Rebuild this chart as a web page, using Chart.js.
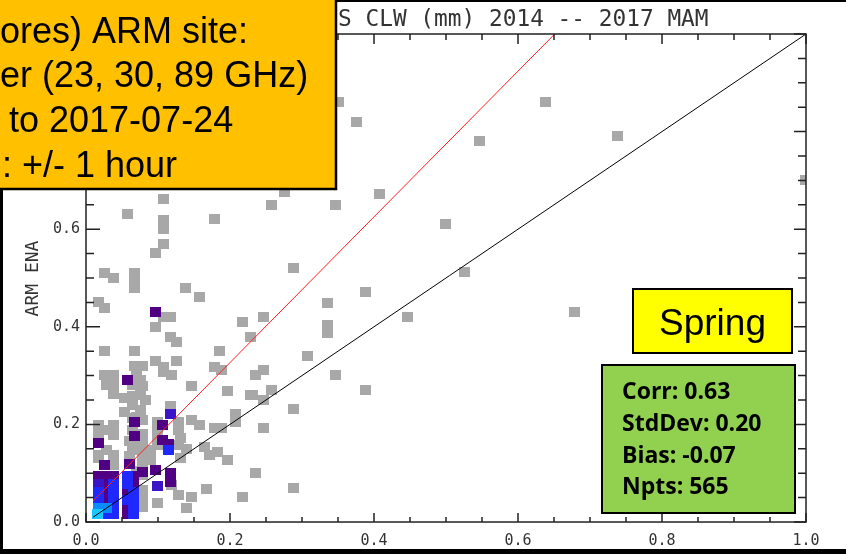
<!DOCTYPE html>
<html>
<head>
<meta charset="utf-8">
<script src="https://cdn.jsdelivr.net/npm/chart.js@4"></script>
<style>
  html, body { margin: 0; padding: 0; background: #fff; }
</style>
</head>
<body>
<canvas id="c" width="846" height="554"></canvas>
<script>
  'use strict';

  // Scatter values (satellite CLW on x, ARM ENA on y), grouped by point density colour
  const grayX = [0.350, 0.376, 0.638, 0.547, 0.738, 0.999, 0.276, 0.407, 0.107, 0.257, 0.347, 0.058, 0.178, 0.107, 0.107,
    0.499, 0.107, 0.097, 0.288, 0.526, 0.026, 0.038, 0.067, 0.067, 0.067, 0.138, 0.388, 0.157, 0.018, 0.026, 0.336, 0.678,
    0.108, 0.118, 0.247, 0.447, 0.218, 0.336, 0.336, 0.097, 0.228, 0.118, 0.126, 0.026, 0.067, 0.186, 0.307, 0.097, 0.126,
    0.247, 0.235, 0.347, 0.067, 0.078, 0.107, 0.178, 0.188, 0.107, 0.119, 0.258, 0.231, 0.247, 0.388, 0.288, 0.247, 0.235,
    0.288,
    0.026, 0.038, 0.028, 0.038, 0.065, 0.075, 0.075, 0.065, 0.075, 0.082, 0.146, 0.197, 0.228, 0.208, 0.208, 0.117, 0.147,
    0.158, 0.178, 0.188, 0.018, 0.028, 0.038, 0.038, 0.018, 0.028, 0.038, 0.018, 0.018, 0.038, 0.065, 0.075, 0.065, 0.078,
    0.078, 0.078, 0.078, 0.078, 0.078, 0.099, 0.099, 0.089, 0.089, 0.128, 0.128, 0.131, 0.165, 0.172, 0.182, 0.197, 0.167,
    0.218, 0.146, 0.140, 0.099, 0.119, 0.128, 0.070, 0.060, 0.060, 0.070,
    0.038, 0.070, 0.078, 0.065, 0.078, 0.065, 0.053, 0.053, 0.078, 0.078, 0.099, 0.099, 0.128, 0.131, 0.140];
  const grayY = [0.861, 0.820, 0.861, 0.781, 0.791, 0.701, 0.676, 0.672, 0.662, 0.650, 0.650, 0.631, 0.621, 0.619, 0.600,
    0.611, 0.570, 0.551, 0.520, 0.512, 0.510, 0.500, 0.510, 0.496, 0.480, 0.480, 0.471, 0.461, 0.451, 0.439, 0.449, 0.430,
    0.420, 0.420, 0.420, 0.420, 0.410, 0.404, 0.387, 0.400, 0.379, 0.379, 0.369, 0.350, 0.350, 0.350, 0.340, 0.330, 0.330,
    0.311, 0.301, 0.301, 0.320, 0.320, 0.318, 0.318, 0.311, 0.307, 0.301, 0.270, 0.260, 0.250, 0.270, 0.232, 0.193, 0.100,
    0.070,
    0.301, 0.301, 0.281, 0.262, 0.281, 0.291, 0.260, 0.240, 0.230, 0.250, 0.279, 0.268, 0.260, 0.221, 0.205, 0.238, 0.209,
    0.199, 0.193, 0.193, 0.199, 0.189, 0.199, 0.178, 0.178, 0.148, 0.137, 0.137, 0.131, 0.117, 0.189, 0.158, 0.148, 0.137,
    0.123, 0.096, 0.066, 0.045, 0.031, 0.189, 0.172, 0.148, 0.127, 0.189, 0.158, 0.131, 0.154, 0.137, 0.143, 0.127, 0.068,
    0.051, 0.051, 0.029, 0.039, 0.076, 0.055, 0.215, 0.165, 0.135, 0.105,
    0.281, 0.300, 0.279, 0.258, 0.209, 0.213, 0.255, 0.225, 0.180, 0.160, 0.205, 0.158, 0.205, 0.172, 0.150];

  const purpleX = [0.097, 0.058, 0.067, 0.067, 0.106, 0.106, 0.115, 0.018, 0.026, 0.061, 0.078, 0.096, 0.117, 0.117,
    0.017, 0.028, 0.038, 0.028, 0.028, 0.028, 0.066, 0.066, 0.058, 0.058, 0.058];
  const purpleY = [0.430, 0.291, 0.205, 0.176, 0.199, 0.168, 0.160, 0.162, 0.117, 0.119, 0.102, 0.107, 0.100, 0.082,
    0.094, 0.094, 0.094, 0.078, 0.061, 0.045, 0.094, 0.078, 0.061, 0.029, 0.016];

  const violetX = [0.118, 0.099, 0.017];
  const violetY = [0.221, 0.074, 0.078];

  const blueX = [0.115, 0.038, 0.017, 0.038, 0.017, 0.038, 0.038, 0.028, 0.038, 0.058, 0.058, 0.066, 0.058, 0.066,
    0.066, 0.066];
  const blueY = [0.148, 0.078, 0.061, 0.061, 0.045, 0.045, 0.029, 0.016, 0.016, 0.094, 0.078, 0.061, 0.045, 0.045,
    0.029, 0.016];

  const lightX = [0.017, 0.028];
  const lightY = [0.029, 0.029];

  const cyanX = [0.016];
  const cyanY = [0.016];

  // Fitted line and 1:1 line
  const fitX = [0.01, 0.651];
  const fitY = [0.043, 1.0];
  const oneX = [0.01, 1.0];
  const oneY = [0.01, 1.0];

  const tickValues = [0, 0.2, 0.4, 0.6, 0.8, 1.0];

  const pts = (xs, ys) => xs.map((x, i) => ({ x, y: ys[i] }));

  // square marker, a bit wider than tall like the original symbols
  const square = (color) => {
    const c = document.createElement('canvas');
    c.width = 11;
    c.height = 10;
    const g = c.getContext('2d');
    g.fillStyle = color;
    g.fillRect(0, 0, 11, 10);
    return c;
  };

  const pointSet = (xs, ys, color, order) => ({
    data: pts(xs, ys),
    pointStyle: square(color),
    pointRadius: 5,
    showLine: false,
    order
  });

  const lineSet = (xs, ys, color, order) => ({
    data: pts(xs, ys),
    showLine: true,
    borderColor: color,
    borderWidth: 1,
    pointRadius: 0,
    fill: false,
    order
  });

  const decor = {
    id: 'decor',
    afterDraw(chart) {
      const { ctx, chartArea: a, scales: { x, y } } = chart;
      ctx.save();

      // plot frame and inward ticks
      ctx.strokeStyle = '#222';
      ctx.lineWidth = 1.5;
      ctx.strokeRect(a.left, a.top, a.right - a.left, a.bottom - a.top);
      ctx.beginPath();
      for (let i = 0; i <= 20; i++) {
        const v = i * 0.05;
        const major = i % 4 === 0;
        const px = x.getPixelForValue(v);
        const py = y.getPixelForValue(v);
        ctx.moveTo(px, a.bottom); ctx.lineTo(px, a.bottom - (major ? 9 : 5));
        ctx.moveTo(px, a.top); ctx.lineTo(px, a.top + (major ? 10 : 6));
        ctx.moveTo(a.left, py); ctx.lineTo(a.left + (major ? 14 : 8), py);
        ctx.moveTo(a.right, py); ctx.lineTo(a.right - (major ? 12 : 8), py);
      }
      ctx.stroke();

      // y axis title
      ctx.fillStyle = '#333';
      ctx.font = '18px "DejaVu Sans Mono"';
      ctx.textAlign = 'center';
      ctx.textBaseline = 'middle';
      ctx.save();
      ctx.translate(33.5, 278.5);
      ctx.rotate(-Math.PI / 2);
      ctx.fillText('ARM ENA', 0, 0);
      ctx.restore();

      // chart title (left part sits under the note box)
      ctx.font = '22.8px "DejaVu Sans Mono"';
      ctx.textAlign = 'left';
      ctx.textBaseline = 'alphabetic';
      ctx.fillText('S CLW (mm) 2014 -- 2017 MAM', 338, 26);

      // orange note box
      ctx.fillStyle = '#FFC000';
      ctx.fillRect(0, 0, 336, 189);
      ctx.strokeStyle = '#000';
      ctx.lineWidth = 2.5;
      ctx.strokeRect(-5, -5, 341, 194);
      ctx.fillStyle = '#000';
      ctx.font = '36px "Liberation Sans"';
      ctx.fillText('ores) ARM site:', 0, 43);
      ctx.fillText('er (23, 30, 89 GHz)', 0, 87);
      ctx.fillText('to 2017-07-24', 9, 132);
      ctx.fillText(': +/- 1 hour', 2, 177);

      // season box
      ctx.fillStyle = '#FFFF00';
      ctx.fillRect(633, 289, 159, 64);
      ctx.lineWidth = 2;
      ctx.strokeRect(633, 289, 159, 64);
      ctx.fillStyle = '#000';
      ctx.font = '37px "Liberation Sans"';
      ctx.textAlign = 'center';
      ctx.fillText('Spring', 712.5, 335);

      // stats box
      ctx.fillStyle = '#92D050';
      ctx.fillRect(602, 365, 193, 148);
      ctx.strokeRect(602, 365, 193, 148);
      ctx.fillStyle = '#000';
      ctx.font = '700 23px "Open Sans"';
      ctx.textAlign = 'left';
      ctx.fillText('Corr: 0.63', 622, 399);
      ctx.fillText('StdDev: 0.20', 622, 431);
      ctx.fillText('Bias: -0.07', 622, 463);
      ctx.fillText('Npts: 565', 622, 494);

      // picture border
      ctx.fillStyle = '#000';
      ctx.fillRect(336, 0, 510, 2);
      ctx.fillRect(0, 189, 3, 365);
      ctx.fillRect(0, 549, 846, 5);

      ctx.restore();
    }
  };

  new Chart(document.getElementById('c'), {
    type: 'scatter',
    data: {
      datasets: [
        lineSet(fitX, fitY, '#ff2020', 0),
        lineSet(oneX, oneY, '#000000', 1),
        pointSet(cyanX, cyanY, '#18c8ff', 2),
        pointSet(lightX, lightY, '#0a8cff', 3),
        pointSet(blueX, blueY, '#1e28ff', 4),
        pointSet(violetX, violetY, '#3c14c8', 5),
        pointSet(purpleX, purpleY, '#500082', 6),
        pointSet(grayX, grayY, '#a8a8a8', 7)
      ]
    },
    options: {
      responsive: false,
      animation: false,
      events: [],
      layout: { padding: { top: 34, right: 40, left: 0, bottom: 0 } },
      plugins: { legend: { display: false }, tooltip: { enabled: false } },
      scales: {
        x: {
          type: 'linear',
          min: 0,
          max: 1,
          grid: { display: false, drawTicks: false },
          border: { display: false },
          afterFit: (s) => { s.height = 32; },
          afterBuildTicks: (s) => { s.ticks = tickValues.map(v => ({ value: v })); },
          ticks: {
            autoSkip: false,
            maxRotation: 0,
            padding: 10,
            color: '#333',
            font: { family: 'DejaVu Sans Mono', size: 15 },
            callback: (v) => Number(v).toFixed(1)
          }
        },
        y: {
          type: 'linear',
          min: 0,
          max: 1,
          grid: { display: false, drawTicks: false },
          border: { display: false },
          afterFit: (s) => { s.width = 86; },
          afterBuildTicks: (s) => { s.ticks = tickValues.map(v => ({ value: v })); },
          ticks: {
            autoSkip: false,
            padding: 6,
            color: '#333',
            font: { family: 'DejaVu Sans Mono', size: 15 },
            callback: (v) => Number(v).toFixed(1)
          }
        }
      }
    },
    plugins: [decor]
  });
</script>
</body>
</html>
